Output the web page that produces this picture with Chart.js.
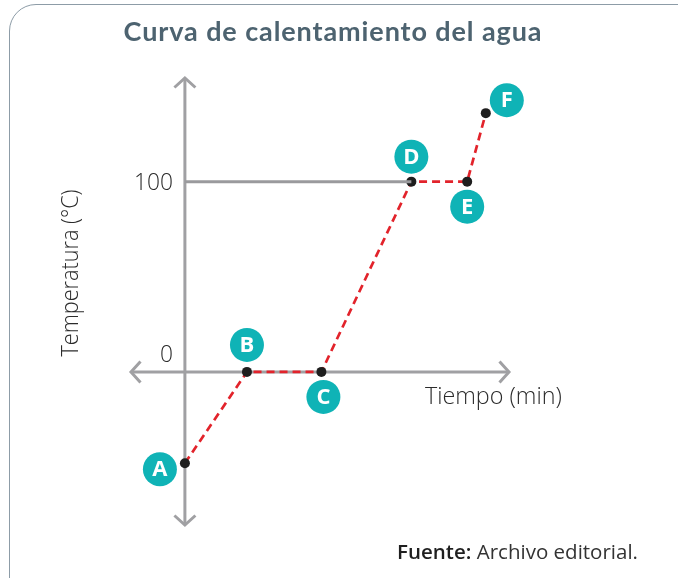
<!DOCTYPE html>
<html>
<head>
<meta charset="utf-8">
<script src="https://cdn.jsdelivr.net/npm/chart.js@4.4.1/dist/chart.umd.min.js"></script>
<style>
html,body{margin:0;padding:0;background:#fff;width:678px;height:578px;overflow:hidden;}
#card{position:absolute;left:9px;top:4px;width:720px;height:620px;border:1.6px solid #8d9ca7;border-radius:27px;box-sizing:border-box;}
#title{position:absolute;left:0;top:18px;width:666px;text-align:center;font:700 27px Lato, sans-serif;line-height:26px;letter-spacing:0.9px;color:#4d6370;white-space:nowrap;}
#src{position:absolute;left:397px;top:540px;font:400 20px "Open Sans", sans-serif;line-height:24px;color:#333;white-space:nowrap;transform-origin:0 0;}
#src b{font-weight:600;color:#1f1f1f;}
canvas{position:absolute;left:0;top:0;}
</style>
</head>
<body>
<div id="card"></div>
<canvas id="c" width="678" height="578"></canvas>
<div id="title">Curva de calentamiento del agua</div>
<div id="src"><b>Fuente:</b> Archivo editorial.</div>
<script>
// ---- data ----
const times = [0, 2, 4.4, 7.3, 9.1, 9.7];          // Tiempo (min)
const temps = [-48, 0, 0, 100, 100, 136];          // Temperatura (°C)
const pointNames = ['A', 'B', 'C', 'D', 'E', 'F'];
const refTimes = [0, 7.3];                         // línea guía de 100 °C
const refTemps = [100, 100];
const yTickValues = [0, 100];
const yTickLabels = ['0', '100'];
const xRange = [-1.77, 10.48];
const yRange = [-81, 155];
const xTitle = 'Tiempo (min)';
const yTitle = 'Temperatura (°C)';

// fit footer / title widths
(function(){
  const s = document.getElementById('src');
  const w = s.getBoundingClientRect().width;
  s.style.transform = 'scaleX(' + (241 / w) + ')';
})();

const AXIS = '#a0a0a3';
const axesPlugin = {
  id: 'customAxes',
  beforeDatasetsDraw(chart) {
    const ctx = chart.ctx;
    const xs = chart.scales.x, ys = chart.scales.y;
    const x0 = xs.getPixelForValue(0), y0 = ys.getPixelForValue(0);
    const xL = xs.getPixelForValue(xRange[0]), xR = xs.getPixelForValue(xRange[1]);
    const yT = ys.getPixelForValue(yRange[1]), yB = ys.getPixelForValue(yRange[0]);
    ctx.save();
    ctx.strokeStyle = AXIS;
    ctx.lineWidth = 3;
    ctx.lineCap = 'butt';
    ctx.lineJoin = 'miter';
    ctx.beginPath();
    ctx.moveTo(xL + 1, y0); ctx.lineTo(xR - 1, y0);
    ctx.moveTo(x0, yT + 1); ctx.lineTo(x0, yB - 1);
    ctx.stroke();
    const a = 10.5;
    ctx.beginPath();
    ctx.moveTo(x0 - a, yT + a); ctx.lineTo(x0, yT + 1); ctx.lineTo(x0 + a, yT + a);
    ctx.moveTo(x0 - a, yB - a); ctx.lineTo(x0, yB - 1); ctx.lineTo(x0 + a, yB - a);
    ctx.moveTo(xL + a, y0 - a); ctx.lineTo(xL + 1, y0); ctx.lineTo(xL + a, y0 + a);
    ctx.moveTo(xR - a, y0 - a); ctx.lineTo(xR - 1, y0); ctx.lineTo(xR - a, y0 + a);
    ctx.stroke();

    // tick labels
    ctx.fillStyle = '#2b2b2b';
    ctx.font = '300 24px "Open Sans", sans-serif';
    ctx.textAlign = 'right';
    ctx.textBaseline = 'middle';
    const tickDy = {0: -17, 100: 2};
    yTickValues.forEach((v, i) => {
      const w = yTickLabels[i].length * 13;
      ctx.fillText(yTickLabels[i], x0 - 12, ys.getPixelForValue(v) + tickDy[v], w);
    });

    // axis titles
    ctx.font = '300 24px "Open Sans", sans-serif';
    ctx.textAlign = 'left';
    ctx.textBaseline = 'alphabetic';
    ctx.fillText(xTitle, x0 + 240, y0 + 32, 137);
    ctx.save();
    ctx.translate(78, 273);
    ctx.rotate(-Math.PI / 2);
    ctx.textAlign = 'center';
    ctx.fillText(yTitle, 0, 0, 167);
    ctx.restore();
    ctx.restore();
  }
};

const labelOffsets = {A: [-25, 6], B: [0, -27], C: [2, 25], D: [0, -25], E: [0, 25], F: [21, -13]};
const labelsPlugin = {
  id: 'pointLabels',
  afterDatasetsDraw(chart) {
    const ctx = chart.ctx;
    const meta = chart.getDatasetMeta(1);
    ctx.save();
    meta.data.forEach((pt, i) => {
      const name = pointNames[i];
      const off = labelOffsets[name];
      const cx = pt.x + off[0], cy = pt.y + off[1];
      ctx.fillStyle = '#0fb3b6';
      ctx.beginPath();
      ctx.arc(cx, cy, 17, 0, Math.PI * 2);
      ctx.fill();
      ctx.fillStyle = '#ffffff';
      ctx.font = '700 22px "Open Sans", sans-serif';
      ctx.textAlign = 'center';
      ctx.textBaseline = 'middle';
      ctx.fillText(name, cx, cy + 1);
    });
    ctx.restore();
  }
};

new Chart(document.getElementById('c'), {
  type: 'scatter',
  data: {
    datasets: [
      {
        data: refTimes.map((t, i) => ({x: t, y: refTemps[i]})),
        showLine: true,
        borderColor: '#9a9a9d',
        borderWidth: 3,
        pointRadius: 0,
        clip: false
      },
      {
        data: times.map((t, i) => ({x: t, y: temps[i]})),
        showLine: true,
        borderColor: '#e2232b',
        borderWidth: 2.7,
        borderDash: [8, 5],
        pointRadius: 5,
        pointHoverRadius: 5,
        pointBackgroundColor: '#1e1e1e',
        pointBorderWidth: 0,
        clip: false
      }
    ]
  },
  options: {
    responsive: false,
    animation: false,
    devicePixelRatio: 1,
    layout: {padding: {left: 130, right: 168, top: 77, bottom: 52}},
    scales: {
      x: {type: 'linear', min: xRange[0], max: xRange[1], display: false},
      y: {type: 'linear', min: yRange[0], max: yRange[1], display: false}
    },
    plugins: {legend: {display: false}, tooltip: {enabled: false}, title: {display: false}}
  },
  plugins: [axesPlugin, labelsPlugin]
});
</script>
</body>
</html>
